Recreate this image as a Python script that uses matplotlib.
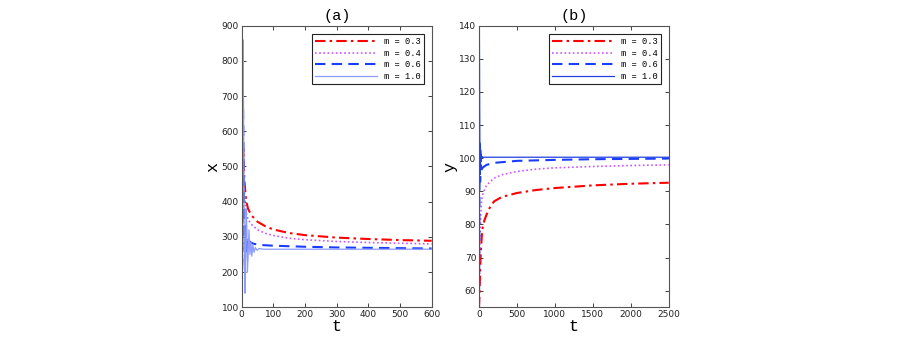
import matplotlib
matplotlib.use("Agg")
import matplotlib.pyplot as plt

# ---------------- data: panel (a) ----------------
ta_03 = [0, 2, 5, 8, 12, 16, 20, 30, 50, 75, 100, 150, 200, 300, 400, 500, 600]
xa_03 = [100, 300, 550, 470, 420, 395, 380, 362, 343, 330, 321, 311, 305, 298, 294, 291, 289]
ta_04 = [0, 2, 5, 8, 12, 16, 20, 30, 50, 75, 100, 150, 200, 300, 400, 500, 600]
xa_04 = [100, 280, 500, 430, 385, 362, 350, 336, 320, 310, 304, 296, 292, 287, 284, 282, 280]
ta_06 = [0, 2, 4, 7, 10, 13, 16, 19, 22, 26, 30, 40, 60, 100, 200, 300, 400, 500, 600]
xa_06 = [100, 450, 690, 420, 210, 330, 250, 300, 290, 286, 283, 280, 277, 275, 272, 270, 269, 268, 267]
ta_10 = [0, 2, 4, 6, 8, 10, 12, 14, 16, 18, 20, 23, 26, 29, 32, 35, 39, 43, 48, 55, 70, 100, 200, 400, 600]
xa_10 = [100, 600, 860, 640, 300, 140, 260, 380, 330, 200, 240, 320, 250, 285, 245, 278, 256, 270, 262, 267, 265, 265, 265, 265, 265]

# ---------------- data: panel (b) ----------------
tb_03 = [0, 8, 15, 25, 35, 50, 75, 100, 150, 200, 300, 500, 750, 1000, 1500, 2000, 2500]
yb_03 = [55, 60, 66, 72, 76, 79.5, 81.5, 83, 85.5, 87, 88.3, 89.5, 90.4, 91, 91.8, 92.3, 92.6]
tb_04 = [0, 8, 15, 25, 35, 50, 75, 100, 150, 200, 300, 500, 750, 1000, 1500, 2000, 2500]
yb_04 = [55, 70, 78, 84, 87.5, 89, 90.7, 91.8, 93, 94, 95, 96, 96.7, 97.1, 97.5, 97.8, 98]
tb_06 = [0, 5, 10, 15, 20, 25, 32, 50, 100, 200, 500, 1000, 1500, 2000, 2500]
yb_06 = [55, 85, 105, 93, 98, 95.5, 96.5, 97.2, 98, 98.6, 99.2, 99.5, 99.7, 99.8, 99.9]
tb_10 = [5, 7, 10, 13, 16, 19, 22, 25, 28, 32, 36, 42, 60, 100, 500, 1000, 2500]
yb_10 = [140, 128, 110, 95, 104, 97, 102.5, 99, 101.2, 99.7, 100.6, 100.2, 100.3, 100.3, 100.3, 100.3, 100.3]

labels = ["m = 0.3", "m = 0.4", "m = 0.6", "m = 1.0"]
xticks_a = [0, 100, 200, 300, 400, 500, 600]
yticks_a = [100, 200, 300, 400, 500, 600, 700, 800, 900]
xticks_b = [0, 500, 1000, 1500, 2000, 2500]
yticks_b = [60, 70, 80, 90, 100, 110, 120, 130, 140]

mono = "Liberation Mono"
fig = plt.figure(figsize=(9, 3.46), dpi=100)
W, H = 900, 346
axA = fig.add_axes([241.7 / W, 1 - 307.3 / H, (431.7 - 241.7) / W, (307.3 - 25.7) / H])
axB = fig.add_axes([479 / W, 1 - 307.3 / H, (668.7 - 479) / W, (307.3 - 25.7) / H])

red = "#ff0000"
mag = "#cc55ff"
blue = "#1a3cff"
lblue = "#8c9cff"

axA.plot(ta_03, xa_03, color=red, ls=(0, (5, 2, 1.2, 2)), lw=1.5, label=labels[0])
axA.plot(ta_04, xa_04, color=mag, ls=(0, (1, 1.5)), lw=1.2, label=labels[1])
axA.plot(ta_06, xa_06, color=blue, ls=(0, (5, 3)), lw=1.5, label=labels[2])
axA.plot(ta_10, xa_10, color=lblue, ls="-", lw=0.9, label=labels[3])

axB.plot(tb_03, yb_03, color=red, ls=(0, (5, 2, 1.2, 2)), lw=1.5, label=labels[0])
axB.plot(tb_04, yb_04, color=mag, ls=(0, (1, 1.5)), lw=1.2, label=labels[1])
axB.plot(tb_06, yb_06, color=blue, ls=(0, (5, 3)), lw=1.5, label=labels[2])
axB.plot(tb_10, yb_10, color="#2040e0", ls="-", lw=0.9, label=labels[3])

for ax, xt, yt, xl, yl, ttl, ylab in [
    (axA, xticks_a, yticks_a, (0, 600), (100, 900), "(a)", "x"),
    (axB, xticks_b, yticks_b, (0, 2500), (55, 140), "(b)", "y"),
]:
    ax.set_xlim(*xl)
    ax.set_ylim(*yl)
    ax.set_xticks(xt)
    ax.set_yticks(yt)
    ax.tick_params(direction="in", top=True, right=True, length=3, width=0.6,
                   labelsize=6.5, pad=2, colors="#222222")
    for s in ax.spines.values():
        s.set_linewidth(0.8)
        s.set_color("#555555")
    ax.set_title(ttl, family=mono, fontsize=11, pad=4)
    ax.set_xlabel("t", family=mono, fontsize=12, labelpad=0)
    ax.set_ylabel(ylab, family=mono, fontsize=12, labelpad=1)
    leg = ax.legend(loc="upper right", prop={"family": mono, "size": 6.3},
                    fancybox=False, framealpha=1, edgecolor="#222222",
                    handlelength=7, borderpad=0.4, labelspacing=0.3,
                    handletextpad=0.8, borderaxespad=0.9)
    leg.get_frame().set_linewidth(0.8)

fig.savefig("out.png", dpi=100)
